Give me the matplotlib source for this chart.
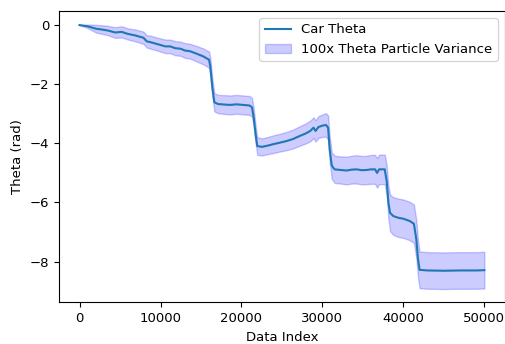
# Car theta com banda de variância das partículas (100x)
import numpy as np
import matplotlib.pyplot as plt

plt.rcParams["font.size"] = 9.5

# índice dos dados (amostras)
data_index = [0, 500, 1000, 2000, 3000, 3600, 4400, 5200, 6000, 6900,
              7900, 8300, 8800, 9700, 10600, 11200, 11800, 12500, 13000, 13600,
              14300, 15300, 15800, 16000, 16150, 16400, 16650, 17100, 18000, 18600,
              19400, 20200, 21000, 21300, 21500, 21750, 21950, 22500, 23200, 23900,
              24700, 25600, 26400, 27200, 27900, 28500, 28900, 29150, 29500, 30000,
              30450, 30700, 30900, 31150, 31500, 32200, 33000, 33600, 34200, 34900,
              35500, 36000, 36500, 36750, 37000, 37700, 37950, 38150, 38350, 38750,
              39400, 40000, 40800, 41300, 41600, 41800, 42000, 43000, 45000, 47000,
              49000, 50000]

# theta do carro (rad)
car_theta = [0.00, -0.02, -0.04, -0.12, -0.16, -0.19, -0.25, -0.23, -0.30, -0.35,
             -0.43, -0.55, -0.58, -0.65, -0.72, -0.72, -0.78, -0.80, -0.86, -0.88,
             -0.95, -1.06, -1.14, -1.17, -1.40, -2.10, -2.61, -2.67, -2.69, -2.70,
             -2.68, -2.70, -2.72, -2.78, -3.10, -3.70, -4.09, -4.12, -4.08, -4.03,
             -3.98, -3.92, -3.85, -3.75, -3.67, -3.58, -3.47, -3.58, -3.45, -3.40,
             -3.38, -3.47, -4.20, -4.75, -4.88, -4.90, -4.92, -4.89, -4.88, -4.91,
             -4.90, -4.88, -4.88, -5.00, -4.88, -4.88, -5.30, -6.00, -6.35, -6.46,
             -6.52, -6.55, -6.63, -6.72, -7.25, -7.90, -8.28, -8.30, -8.31, -8.30,
             -8.30, -8.29]

# variância de theta entre as partículas
theta_var = [0.0000, 0.0003, 0.0006, 0.0013, 0.0015, 0.0016, 0.0018, 0.0019, 0.0019, 0.0020,
             0.0021, 0.0021, 0.0022, 0.0022, 0.0023, 0.0023, 0.0024, 0.0024, 0.0025, 0.0025,
             0.0026, 0.0027, 0.0027, 0.0028, 0.0029, 0.0030, 0.0031, 0.0031, 0.0032, 0.0032,
             0.0032, 0.0032, 0.0032, 0.0032, 0.0031, 0.0030, 0.0030, 0.0029, 0.0029, 0.0030,
             0.0030, 0.0031, 0.0032, 0.0033, 0.0034, 0.0035, 0.0035, 0.0036, 0.0037, 0.0038,
             0.0040, 0.0041, 0.0043, 0.0045, 0.0046, 0.0046, 0.0047, 0.0047, 0.0048, 0.0048,
             0.0048, 0.0049, 0.0049, 0.0050, 0.0050, 0.0050, 0.0052, 0.0057, 0.0062, 0.0064,
             0.0065, 0.0065, 0.0065, 0.0065, 0.0064, 0.0063, 0.0062, 0.0062, 0.0062, 0.0062,
             0.0062, 0.0062]

x = np.array(data_index)
th = np.array(car_theta)
band = 100 * np.array(theta_var)

fig = plt.figure(figsize=(5.06, 3.44), dpi=100)
ax = fig.add_axes([0.1172, 0.1212, 0.880, 0.846])

ax.plot(x, th, label="Car Theta", linewidth=1.5)
ax.fill_between(x, th - band, th + band, color="b", alpha=0.2,
                label="100x Theta Particle Variance")

ax.set_xlabel("Data Index")
ax.set_ylabel("Theta (rad)")
ax.legend(loc="upper right")

plt.savefig("out.png")
plt.close()
